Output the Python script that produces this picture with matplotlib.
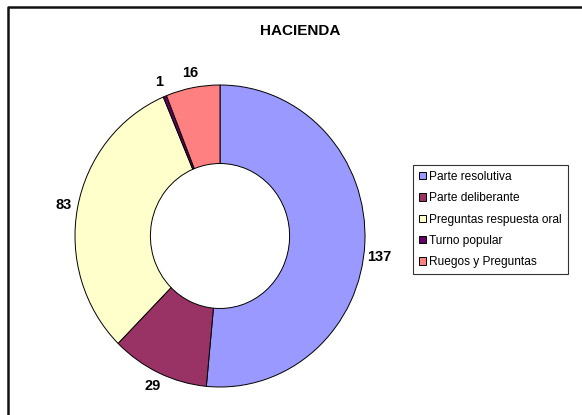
import numpy as np
import matplotlib
matplotlib.use("Agg")
import matplotlib.pyplot as plt
from matplotlib.lines import Line2D

categories = ["Parte resolutiva", "Parte deliberante", "Preguntas respuesta oral",
              "Turno popular", "Ruegos y Preguntas"]
values = [137, 29, 83, 1, 16]
colors = ["#9999FF", "#993366", "#FFFFCC", "#660066", "#FF8080"]
title = "HACIENDA"

plt.rcParams['font.family'] = ['Liberation Sans', 'DejaVu Sans']

W, H = 582, 415
fig = plt.figure(figsize=(W / 100, H / 100), dpi=100)
fig.patch.set_facecolor("white")

# frame (left and top edges visible)
fx, fy = 7.5 / W, 1 - 7.5 / H
fig.add_artist(Line2D([fx, fx, 1.0], [0.0, fy, fy], transform=fig.transFigure,
                      color="#111111", lw=1.8, solid_capstyle="butt"))

cx, cy = 220, 236
rx, ry = 145, 151
ax = fig.add_axes([(cx - rx) / W, (H - cy - ry) / H, 2 * rx / W, 2 * ry / H])
wedges, _ = ax.pie(values, colors=colors, startangle=90, counterclock=False,
                   radius=1.0, wedgeprops=dict(width=0.52, edgecolor="black", linewidth=0.7))
ax.set_aspect("auto")
ax.set_xlim(-1, 1)
ax.set_ylim(-1, 1)
ax.axis("off")

for w, v in zip(wedges, values):
    ang = np.deg2rad((w.theta1 + w.theta2) / 2)
    r = 1.1
    x, y = r * np.cos(ang), r * np.sin(ang)
    if x > 0.9:
        y -= 0.09
    ax.text(x, y, str(v), ha="center", va="center",
            fontsize=10.5, fontweight="bold", clip_on=False)

fig.text(300 / W, 1 - 31 / H, title, ha="center", va="center", fontsize=11, fontweight="bold")

leg = fig.legend(wedges, categories, loc="upper left",
                 bbox_to_anchor=(413 / W, 1 - 165 / H), borderaxespad=0,
                 fontsize=8.6, frameon=True, fancybox=False, shadow=False,
                 handlelength=0.55, handleheight=0.55, handletextpad=0.3,
                 labelspacing=0.78, borderpad=0.5)
leg.get_frame().set_edgecolor("black")
leg.get_frame().set_linewidth(0.8)

fig.savefig("out.png", dpi=100)
